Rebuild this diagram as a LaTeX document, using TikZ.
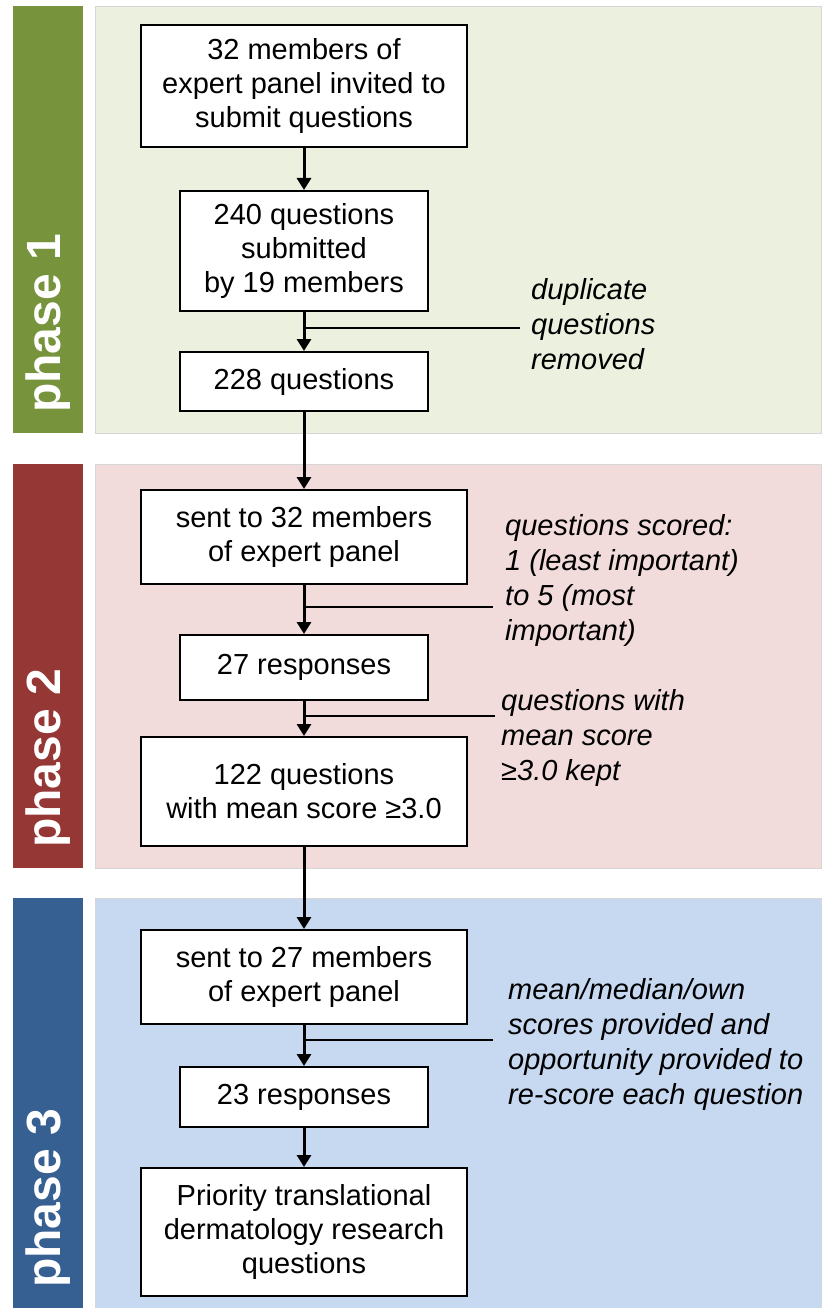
\documentclass[tikz,border=0pt]{standalone}
\usepackage{fontspec}
\setmainfont{Liberation Sans}
\usetikzlibrary{arrows.meta}
\definecolor{PGreen}{HTML}{77933C}
\definecolor{PGreenLight}{HTML}{EBF1DE}
\definecolor{PRed}{HTML}{953735}
\definecolor{PRedLight}{HTML}{F2DCDB}
\definecolor{PBlue}{HTML}{376092}
\definecolor{PBlueLight}{HTML}{C6D9F1}
\definecolor{PEdge}{HTML}{D6D6D6}

\begin{document}
\begin{tikzpicture}[x=1pt, y=-1pt,
  box/.style={draw=black, line width=2pt, fill=white, align=center, inner sep=0pt,
    font=\fontsize{29}{34}\selectfont},
  note/.style={anchor=base west, align=left, inner sep=0pt,
    font=\fontsize{29}{35}\selectfont\itshape},
  phase/.style={rotate=90, anchor=west, inner sep=0pt, text=white,
    font=\fontsize{48}{48}\selectfont\bfseries},
  flow/.style={line width=3pt, -{Triangle[width=14pt,length=12pt]}},
  side/.style={line width=2pt}]

  \useasboundingbox (0,0) rectangle (822,1308);
  \fill[white] (0,0) rectangle (822,1308);

  % ============================================
  % PHASE 1: question collection
  % ============================================
  \fill[PGreen] (13,6) rectangle (83,433);
  \draw[PEdge, fill=PGreenLight] (95,6) rectangle (821,433);
  \node[phase] (ph1) at (48,413) {phase 1};

  \node[box, minimum width=326, minimum height=122] (invite) at (304,86)
    {32 members of\\expert panel invited to\\submit questions};
  \node[box, minimum width=248, minimum height=120] (submitted) at (304,251)
    {240 questions\\submitted\\by 19 members};
  \node[box, minimum width=248, minimum height=59] (pool) at (304,381.5)
    {228 questions};

  % duplicates note (base = last line)
  \coordinate (dupEnd) at (520,328);
  \node[note] (dupNote) at (531,369) {duplicate\\questions\\removed};

  % ============================================
  % PHASE 2: first scoring round
  % ============================================
  \fill[PRed] (13,464) rectangle (83,868);
  \draw[PEdge, fill=PRedLight] (95,464) rectangle (821,868);
  \node[phase] (ph2) at (48,848) {phase 2};

  \node[box, minimum width=326, minimum height=94] (sentA) at (304,537)
    {sent to 32 members\\of expert panel};
  \node[box, minimum width=248, minimum height=65] (respA) at (304,667.5)
    {27 responses};
  \node[box, minimum width=326, minimum height=109] (kept) at (304,791.5)
    {122 questions\\with mean score ≥3.0};

  % scoring notes
  \coordinate (scoreEnd) at (493,607);
  \node[note] (scoreNote) at (505,640)
    {questions scored:\\1 (least important)\\to 5 (most\\important)};
  \coordinate (keepEnd) at (495,716);
  \node[note] (keepNote) at (501,780) {questions with\\mean score\\≥3.0 kept};

  % ============================================
  % PHASE 3: re-scoring round
  % ============================================
  \fill[PBlue] (13,898) rectangle (83,1308);
  \draw[PEdge, fill=PBlueLight] (95,898) rectangle (821,1308);
  \node[phase] (ph3) at (48,1288) {phase 3};

  \node[box, minimum width=326, minimum height=94] (sentB) at (304,977)
    {sent to 27 members\\of expert panel};
  \node[box, minimum width=248, minimum height=60] (respB) at (304,1097)
    {23 responses};
  \node[box, minimum width=326, minimum height=128] (final) at (304,1232)
    {Priority translational\\dermatology research\\questions};

  % feedback note
  \coordinate (rescoreEnd) at (493,1040);
  \node[note] (rescoreNote) at (508,1104)
    {mean/median/own\\scores provided and\\opportunity provided to\\re-score each question};

  % ============================================
  % Connectors
  % ============================================
  \draw[flow] (invite.south) -- (submitted.north);
  \draw[flow] (submitted.south) -- (pool.north);
  \draw[flow] (pool.south) -- (sentA.north);
  \draw[flow] (sentA.south) -- (respA.north);
  \draw[flow] (respA.south) -- (kept.north);
  \draw[flow] (kept.south) -- (sentB.north);
  \draw[flow] (sentB.south) -- (respB.north);
  \draw[flow] (respB.south) -- (final.north);

  \draw[side] (dupEnd -| submitted.south) -- (dupEnd);
  \draw[side] (scoreEnd -| sentA.south) -- (scoreEnd);
  \draw[side] (keepEnd -| respA.south) -- (keepEnd);
  \draw[side] (rescoreEnd -| sentB.south) -- (rescoreEnd);

\end{tikzpicture}
\end{document}
